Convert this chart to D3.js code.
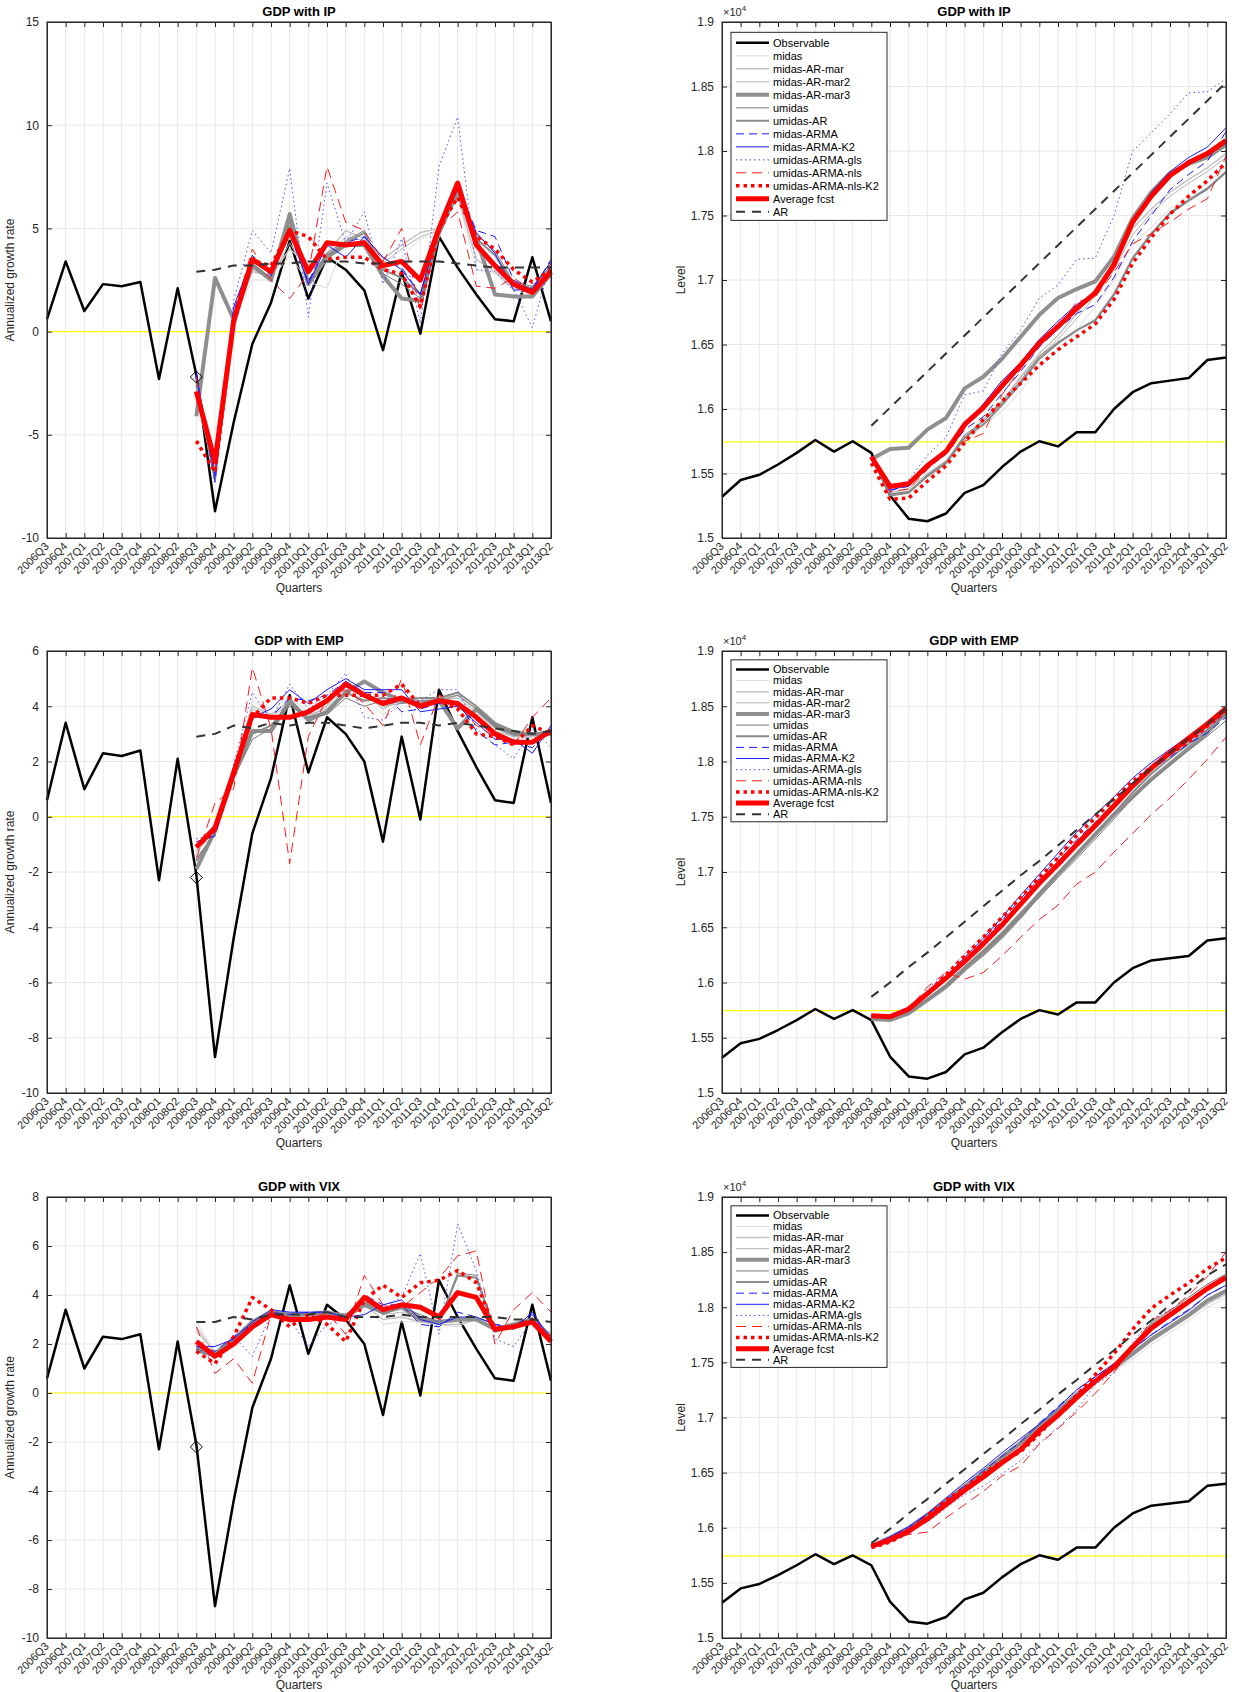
<!DOCTYPE html>
<html><head><meta charset="utf-8">
<script src="https://cdn.jsdelivr.net/npm/d3@7"></script>
<style>body{margin:0;background:#fff;font-family:"Liberation Sans",Arial,sans-serif}</style>
</head><body><svg id="c" width="1239" height="1692"></svg>
<script>
const quarters=["2006Q3","2006Q4","2007Q1","2007Q2","2007Q3","2007Q4","2008Q1","2008Q2","2008Q3","2008Q4","2009Q1","2009Q2","2009Q3","2009Q4","20010Q1","20010Q2","20010Q3","20010Q4","2011Q1","2011Q2","2011Q3","2011Q4","2012Q1","2012Q2","2012Q3","2012Q4","2013Q1","2013Q2"];
const seriesNames=["Observable","midas","midas-AR-mar","midas-AR-mar2","midas-AR-mar3","umidas","umidas-AR","midas-ARMA","midas-ARMA-K2","umidas-ARMA-gls","umidas-ARMA-nls","umidas-ARMA-nls-K2","Average fcst","AR"];
const obsGrowth=[0.6,3.4,1.0,2.3,2.2,2.4,-2.3,2.1,-2.1,-8.7,-4.4,-0.6,1.4,4.4,1.6,3.6,3.0,2.0,-0.9,2.9,-0.1,4.6,3.1,1.8,0.6,0.5,3.6,0.5];
const obsLevel=[1.532,1.545,1.549,1.557,1.566,1.576,1.567,1.575,1.566,1.533,1.515,1.513,1.519,1.535,1.541,1.555,1.567,1.575,1.571,1.582,1.582,1.600,1.613,1.620,1.622,1.624,1.638,1.640];
// IP growth
const ipG={
"midas":[-3.0,-6.5,0.7,2.5,2.5,3.7,2.4,2.1,4.5,4.7,3.0,3.6,4.5,4.8,6.5,3.0,2.8,2.0,1.8,2.8],
"midas-AR-mar":[-3.2,-6.8,0.6,2.9,2.7,4.0,3.2,3.8,4.9,4.5,3.5,4.2,4.8,5.0,6.6,3.5,2.9,2.1,1.9,2.9],
"midas-AR-mar2":[-3.0,-6.6,0.8,3.0,2.6,4.3,2.8,3.6,4.6,4.4,3.3,4.0,4.6,4.9,6.5,4.0,3.0,2.2,2.0,3.0],
"midas-AR-mar3":[-4.1,2.6,0.6,3.2,2.5,5.7,2.3,3.6,4.2,4.2,2.7,1.6,1.5,4.8,6.8,4.5,1.8,1.7,1.7,2.8],
"umidas":[-2.5,-7.0,0.9,3.3,2.6,5.3,2.5,3.8,4.4,4.9,2.8,2.3,1.6,4.8,6.8,4.7,3.9,2.4,2.2,3.2],
"umidas-AR":[-2.6,-7.2,0.8,3.2,2.5,5.1,2.4,3.7,4.3,4.8,3.0,2.6,1.8,4.7,6.7,4.5,3.7,2.3,2.1,3.1],
"midas-ARMA":[-2.0,-7.3,1.0,3.7,2.7,4.7,2.4,4.3,4.3,4.6,3.6,3.1,1.8,5.0,7.0,4.9,4.6,2.5,2.0,3.5],
"midas-ARMA-K2":[-2.1,-7.0,1.2,3.6,2.8,4.9,2.3,4.2,3.6,4.6,3.6,3.0,1.8,5.0,6.9,4.8,3.8,2.0,2.1,3.4],
"umidas-ARMA-gls":[-2.3,-7.3,1.5,4.9,3.8,7.9,0.7,7.2,4.3,5.8,2.3,4.5,0.4,8.0,10.4,3.0,2.9,2.0,0.2,3.4],
"umidas-ARMA-nls":[-2.2,-6.8,0.8,4.0,2.5,1.6,2.8,8.0,5.3,4.9,3.4,5.0,1.0,5.0,5.8,2.2,2.1,2.6,2.0,3.3],
"umidas-ARMA-nls-K2":[-5.3,-6.8,0.4,3.4,3.2,4.9,4.6,3.5,3.6,3.6,3.0,2.8,1.2,5.0,6.5,4.6,4.0,3.0,2.4,3.0],
"Average fcst":[-2.9,-6.3,0.5,3.5,2.9,4.9,2.9,4.3,4.2,4.3,3.2,3.4,2.5,5.0,7.2,4.2,3.2,2.3,1.9,2.9],
"AR":[2.9,3.0,3.2,3.2,3.3,3.3,3.4,3.4,3.4,3.3,3.3,3.4,3.4,3.4,3.3,3.2,3.1,3.1,3.1,3.1]};
const ipL={
"midas":[1.563,1.535,1.537,1.547,1.557,1.573,1.588,1.598,1.614,1.633,1.646,1.661,1.680,1.700,1.728,1.741,1.755,1.765,1.775,1.788],
"midas-AR-mar":[1.563,1.534,1.536,1.548,1.559,1.576,1.592,1.606,1.625,1.643,1.657,1.674,1.693,1.712,1.740,1.755,1.768,1.778,1.787,1.798],
"midas-AR-mar2":[1.563,1.535,1.538,1.550,1.560,1.578,1.592,1.606,1.624,1.641,1.654,1.670,1.688,1.708,1.735,1.752,1.765,1.775,1.784,1.795],
"midas-AR-mar3":[1.561,1.569,1.570,1.584,1.593,1.616,1.625,1.639,1.656,1.673,1.686,1.693,1.699,1.718,1.748,1.768,1.783,1.790,1.795,1.805],
"umidas":[1.563,1.534,1.536,1.549,1.559,1.580,1.590,1.605,1.622,1.641,1.652,1.661,1.668,1.688,1.716,1.735,1.751,1.761,1.770,1.783],
"umidas-AR":[1.563,1.533,1.535,1.548,1.558,1.578,1.588,1.603,1.620,1.639,1.651,1.661,1.669,1.689,1.717,1.736,1.752,1.762,1.771,1.784],
"midas-ARMA":[1.564,1.537,1.540,1.554,1.565,1.584,1.594,1.612,1.629,1.648,1.662,1.674,1.681,1.702,1.730,1.750,1.770,1.782,1.792,1.815],
"midas-ARMA-K2":[1.564,1.537,1.541,1.555,1.567,1.587,1.604,1.622,1.636,1.654,1.668,1.681,1.690,1.713,1.746,1.768,1.784,1.795,1.803,1.818],
"umidas-ARMA-gls":[1.563,1.535,1.545,1.564,1.578,1.611,1.614,1.643,1.661,1.686,1.696,1.716,1.717,1.750,1.800,1.814,1.829,1.845,1.846,1.856],
"umidas-ARMA-nls":[1.563,1.536,1.538,1.553,1.569,1.575,1.581,1.611,1.631,1.650,1.663,1.683,1.687,1.706,1.728,1.736,1.745,1.755,1.763,1.796],
"umidas-ARMA-nls-K2":[1.558,1.530,1.531,1.544,1.556,1.574,1.592,1.606,1.620,1.634,1.646,1.656,1.666,1.685,1.713,1.733,1.751,1.765,1.777,1.791],
"Average fcst":[1.563,1.540,1.542,1.556,1.567,1.588,1.601,1.618,1.634,1.651,1.664,1.678,1.690,1.712,1.745,1.765,1.781,1.791,1.798,1.808],
"AR":[1.587,1.601,1.615,1.629,1.643,1.657,1.671,1.685,1.699,1.713,1.727,1.741,1.755,1.769,1.783,1.797,1.811,1.825,1.839,1.853]};
// EMP
const empG={
"midas":[-1.3,-0.5,1.6,4.2,3.9,4.3,3.8,4.0,4.8,4.3,3.7,4.2,4.2,4.3,4.3,3.9,3.1,2.8,2.9,3.0],
"midas-AR-mar":[-1.2,-0.5,1.6,4.0,3.7,4.2,3.6,4.0,4.9,4.5,3.9,4.3,4.3,4.3,4.4,3.9,3.2,2.9,2.9,3.0],
"midas-AR-mar2":[-1.3,-0.5,1.5,3.9,3.6,4.1,3.7,3.9,4.7,4.4,4.0,4.1,4.3,4.2,4.3,3.8,3.1,2.9,3.0,3.0],
"midas-AR-mar3":[-1.9,-0.5,1.5,3.1,3.1,4.2,3.5,3.8,4.5,4.9,4.5,4.2,4.1,4.2,3.2,3.9,3.3,3.0,3.0,3.0],
"umidas":[-1.5,-0.6,1.4,2.8,3.2,4.0,3.6,3.7,4.3,4.0,4.2,4.1,4.2,4.2,4.4,3.9,3.3,3.0,3.0,3.1],
"umidas-AR":[-1.6,-0.6,1.4,3.0,3.3,4.1,3.6,3.8,4.5,4.2,4.3,4.2,4.3,4.3,4.5,4.0,3.4,3.1,3.0,3.1],
"midas-ARMA":[-0.9,-0.7,1.6,3.6,3.6,4.3,4.2,4.4,4.9,4.5,4.5,3.8,3.9,4.1,4.2,3.1,2.6,2.7,2.5,3.2],
"midas-ARMA-K2":[-1.0,-0.4,1.6,3.6,3.9,4.6,4.1,4.6,5.0,4.6,4.6,4.6,3.8,3.9,4.0,3.4,2.8,2.8,2.3,3.3],
"umidas-ARMA-gls":[-0.8,-0.6,1.9,4.5,3.5,4.8,3.9,4.4,5.2,3.6,3.5,4.2,4.2,4.6,4.6,3.2,2.6,2.1,3.2,2.5],
"umidas-ARMA-nls":[-1.5,0.5,1.0,5.4,3.2,-1.7,2.9,4.3,4.6,4.1,3.3,5.0,2.6,4.4,4.1,3.3,2.9,2.6,3.6,4.3],
"umidas-ARMA-nls-K2":[-1.1,-0.5,1.5,3.6,4.3,4.3,4.1,4.4,4.4,4.4,4.4,4.8,4.0,4.2,3.9,3.0,2.9,2.6,3.3,3.0],
"Average fcst":[-1.1,-0.4,1.6,3.7,3.6,3.6,3.8,4.2,4.8,4.4,4.1,4.3,4.0,4.2,4.1,3.6,3.0,2.7,2.7,3.1],
"AR":[2.9,3.0,3.3,3.2,3.4,3.3,3.4,3.4,3.3,3.2,3.3,3.4,3.4,3.3,3.4,3.3,3.2,3.1,3.0,3.1]};
const empL={
"midas":[1.570,1.569,1.576,1.591,1.605,1.620,1.636,1.652,1.671,1.689,1.705,1.722,1.740,1.758,1.776,1.792,1.806,1.819,1.832,1.846],
"midas-AR-mar":[1.570,1.569,1.576,1.591,1.604,1.620,1.635,1.651,1.671,1.689,1.706,1.723,1.741,1.759,1.777,1.793,1.807,1.820,1.833,1.847],
"midas-AR-mar2":[1.570,1.569,1.575,1.590,1.603,1.619,1.634,1.650,1.669,1.687,1.704,1.721,1.739,1.757,1.775,1.791,1.805,1.818,1.831,1.845],
"midas-AR-mar3":[1.567,1.566,1.572,1.584,1.596,1.612,1.626,1.642,1.660,1.680,1.698,1.716,1.734,1.752,1.768,1.784,1.798,1.812,1.826,1.845],
"umidas":[1.569,1.567,1.573,1.584,1.597,1.613,1.628,1.643,1.660,1.677,1.695,1.712,1.730,1.748,1.767,1.783,1.797,1.810,1.823,1.837],
"umidas-AR":[1.569,1.567,1.573,1.585,1.598,1.614,1.629,1.645,1.663,1.681,1.699,1.717,1.735,1.753,1.772,1.789,1.803,1.816,1.829,1.842],
"midas-ARMA":[1.570,1.569,1.576,1.590,1.604,1.621,1.638,1.656,1.676,1.694,1.713,1.729,1.745,1.762,1.780,1.793,1.804,1.816,1.826,1.840],
"midas-ARMA-K2":[1.570,1.569,1.576,1.590,1.605,1.623,1.640,1.659,1.679,1.698,1.717,1.736,1.752,1.768,1.785,1.799,1.811,1.823,1.833,1.847],
"umidas-ARMA-gls":[1.570,1.569,1.577,1.594,1.608,1.626,1.642,1.659,1.679,1.694,1.708,1.725,1.742,1.762,1.781,1.795,1.807,1.818,1.831,1.843],
"umidas-ARMA-nls":[1.570,1.568,1.576,1.596,1.609,1.603,1.609,1.624,1.641,1.657,1.670,1.689,1.700,1.718,1.735,1.752,1.767,1.784,1.802,1.822],
"umidas-ARMA-nls-K2":[1.570,1.569,1.576,1.590,1.607,1.624,1.641,1.659,1.677,1.695,1.713,1.733,1.749,1.766,1.782,1.795,1.807,1.818,1.832,1.846],
"Average fcst":[1.570,1.569,1.576,1.590,1.604,1.619,1.635,1.652,1.671,1.690,1.707,1.725,1.742,1.760,1.778,1.794,1.808,1.821,1.834,1.848],
"AR":[1.587,1.600,1.614,1.627,1.641,1.655,1.669,1.683,1.697,1.710,1.724,1.738,1.752,1.766,1.780,1.794,1.808,1.821,1.834,1.848]};
// VIX
const vixG={
"midas":[2.9,1.7,2.2,2.9,3.2,3.1,3.2,3.3,3.1,3.5,2.8,2.9,2.9,2.8,2.7,3.0,2.6,2.7,2.9,2.2],
"midas-AR-mar":[2.7,1.6,2.1,2.8,3.2,3.1,3.2,3.2,3.1,3.6,3.0,3.1,2.9,2.8,2.8,3.0,2.6,2.7,2.9,2.2],
"midas-AR-mar2":[2.5,1.7,2.1,2.8,3.2,3.1,3.2,3.2,3.1,3.6,3.2,3.3,3.0,2.9,2.9,3.1,2.6,2.7,2.9,2.2],
"midas-AR-mar3":[1.8,1.6,2.2,2.9,3.3,3.2,3.2,3.3,3.1,3.6,3.3,3.5,3.0,2.9,3.0,3.0,2.6,2.8,3.0,2.3],
"umidas":[1.8,1.6,2.2,2.9,3.3,3.1,3.2,3.3,3.2,3.8,3.2,3.5,3.2,2.9,4.9,4.8,2.5,2.8,3.0,2.2],
"umidas-AR":[1.7,1.5,2.2,2.9,3.3,3.1,3.2,3.3,3.2,3.7,3.3,3.6,3.1,2.9,4.8,4.7,2.5,2.7,3.0,2.2],
"midas-ARMA":[1.9,1.7,2.3,2.8,3.3,3.2,3.3,3.3,3.1,4.0,3.6,3.6,2.8,2.7,3.3,3.1,2.8,2.7,3.2,2.2],
"midas-ARMA-K2":[1.9,1.9,2.2,2.9,3.4,3.3,3.3,3.3,3.1,3.2,3.6,3.8,3.0,2.8,3.1,3.1,2.8,2.6,3.3,2.2],
"umidas-ARMA-gls":[1.8,1.4,2.3,1.5,3.2,3.0,1.9,2.8,3.0,4.0,3.5,3.9,5.7,2.4,6.9,5.0,2.2,1.9,3.0,2.4],
"umidas-ARMA-nls":[2.7,0.8,1.4,0.4,3.2,2.9,3.0,3.3,2.4,4.8,3.6,3.5,4.1,4.7,5.6,5.8,2.0,3.4,4.1,3.3],
"umidas-ARMA-nls-K2":[1.7,1.2,2.3,3.9,3.4,2.7,3.2,2.8,2.1,3.8,4.4,3.9,4.5,4.6,5.0,4.5,2.6,2.7,3.0,2.2],
"Average fcst":[2.1,1.5,2.0,2.7,3.2,3.0,3.0,3.1,3.0,3.9,3.4,3.6,3.5,3.1,4.1,3.9,2.6,2.7,2.9,2.1],
"AR":[2.9,2.9,3.1,3.0,3.2,3.2,3.2,3.3,3.1,3.1,3.1,3.2,3.1,3.1,3.1,3.1,3.1,3.0,3.0,2.9]};
const vixL={
"midas":[1.586,1.593,1.602,1.614,1.627,1.640,1.653,1.666,1.679,1.694,1.706,1.718,1.730,1.742,1.753,1.766,1.777,1.788,1.800,1.809],
"midas-AR-mar":[1.585,1.592,1.601,1.613,1.626,1.639,1.652,1.665,1.678,1.694,1.707,1.720,1.732,1.744,1.756,1.769,1.780,1.791,1.803,1.812],
"midas-AR-mar2":[1.585,1.592,1.601,1.613,1.626,1.639,1.652,1.665,1.678,1.694,1.708,1.722,1.734,1.746,1.758,1.771,1.782,1.793,1.805,1.815],
"midas-AR-mar3":[1.583,1.590,1.599,1.611,1.624,1.637,1.650,1.664,1.677,1.692,1.706,1.721,1.733,1.745,1.758,1.771,1.782,1.793,1.806,1.815],
"umidas":[1.583,1.590,1.599,1.611,1.624,1.637,1.650,1.664,1.677,1.693,1.706,1.721,1.734,1.746,1.766,1.786,1.797,1.809,1.821,1.830],
"umidas-AR":[1.583,1.589,1.598,1.610,1.623,1.636,1.649,1.663,1.676,1.691,1.705,1.720,1.733,1.745,1.765,1.784,1.795,1.806,1.818,1.827],
"midas-ARMA":[1.584,1.591,1.600,1.612,1.625,1.638,1.652,1.665,1.678,1.695,1.710,1.725,1.737,1.748,1.762,1.775,1.787,1.798,1.811,1.820],
"midas-ARMA-K2":[1.584,1.592,1.601,1.613,1.627,1.641,1.654,1.668,1.681,1.694,1.709,1.725,1.737,1.749,1.762,1.775,1.786,1.797,1.811,1.820],
"umidas-ARMA-gls":[1.584,1.590,1.599,1.605,1.618,1.630,1.638,1.649,1.661,1.677,1.691,1.707,1.730,1.740,1.768,1.789,1.798,1.806,1.818,1.828],
"umidas-ARMA-nls":[1.585,1.588,1.594,1.596,1.609,1.621,1.633,1.647,1.656,1.676,1.690,1.705,1.722,1.741,1.764,1.788,1.797,1.811,1.828,1.850],
"umidas-ARMA-nls-K2":[1.582,1.587,1.596,1.611,1.625,1.636,1.649,1.660,1.669,1.685,1.703,1.720,1.739,1.758,1.780,1.799,1.811,1.822,1.835,1.845],
"Average fcst":[1.583,1.589,1.597,1.608,1.621,1.634,1.646,1.659,1.671,1.688,1.702,1.718,1.733,1.746,1.764,1.781,1.793,1.805,1.817,1.827],
"AR":[1.586,1.599,1.613,1.626,1.640,1.653,1.667,1.680,1.694,1.707,1.721,1.734,1.748,1.761,1.775,1.788,1.802,1.815,1.829,1.839]};
const growthTicks={ip:[-10,-5,0,5,10,15],emp:[-10,-8,-6,-4,-2,0,2,4,6],vix:[-10,-8,-6,-4,-2,0,2,4,6,8]};
const levelTicks=[1.5,1.55,1.6,1.65,1.7,1.75,1.8,1.85,1.9];
const diamondValue=-2.2, levelRef=1.5745;

const styles={
"Observable":{c:"#000",w:2.5},
"midas":{c:"#dcdcdc",w:1},
"midas-AR-mar":{c:"#c4c4c4",w:1.5},
"midas-AR-mar2":{c:"#b4b4b4",w:1},
"midas-AR-mar3":{c:"#8f8f8f",w:4},
"umidas":{c:"#7a7a7a",w:1},
"umidas-AR":{c:"#8a8a8a",w:2},
"midas-ARMA":{c:"#1a1aff",w:1,d:"8,5"},
"midas-ARMA-K2":{c:"#1a1aff",w:1},
"umidas-ARMA-gls":{c:"#4d4dff",w:1,d:"1.5,3"},
"umidas-ARMA-nls":{c:"#ff1a1a",w:1,d:"10,6"},
"umidas-ARMA-nls-K2":{c:"#ff0000",w:3.5,d:"3.5,4"},
"Average fcst":{c:"#ff0000",w:5},
"AR":{c:"#333",w:2,d:"9,7"}};

const panels=[
{title:"GDP with IP",type:"g",data:ipG,ticks:growthTicks.ip,x0:47,y0:22,h:516},
{title:"GDP with IP",type:"l",data:ipL,x0:722,y0:22,h:516},
{title:"GDP with EMP",type:"g",data:empG,ticks:growthTicks.emp,x0:47,y0:651,h:442},
{title:"GDP with EMP",type:"l",data:empL,x0:722,y0:651,h:442},
{title:"GDP with VIX",type:"g",data:vixG,ticks:growthTicks.vix,x0:47,y0:1197,h:441},
{title:"GDP with VIX",type:"l",data:vixL,x0:722,y0:1197,h:441}];

const svg=d3.select("#c");
const W=504;
panels.forEach(p=>{
  const g=svg.append("g").attr("transform",`translate(${p.x0},${p.y0})`);
  const x=d3.scalePoint().domain(quarters).range([0,W]);
  const ticks=p.type==="g"?p.ticks:levelTicks;
  const y=d3.scaleLinear().domain(d3.extent(ticks)).range([p.h,0]);
  g.append("g").selectAll("line").data(quarters).join("line").attr("x1",d=>x(d)).attr("x2",d=>x(d)).attr("y1",0).attr("y2",p.h).attr("stroke","#e8e8e8");
  g.append("g").selectAll("line").data(ticks).join("line").attr("x1",0).attr("x2",W).attr("y1",d=>y(d)).attr("y2",d=>y(d)).attr("stroke","#e8e8e8");
  const ref=p.type==="g"?0:levelRef;
  g.append("line").attr("x1",0).attr("x2",W).attr("y1",y(ref)).attr("y2",y(ref)).attr("stroke","#ffff00").attr("stroke-width",1.2);
  const line=d3.line().x(d=>x(d.q)).y(d=>y(d.v));
  const obs=(p.type==="g"?obsGrowth:obsLevel).map((v,i)=>({q:quarters[i],v}));
  const draw=(name,pts)=>{const s=styles[name];g.append("path").datum(pts).attr("d",line).attr("fill","none").attr("stroke",s.c).attr("stroke-width",s.w).attr("stroke-dasharray",s.d||null).attr("stroke-linejoin","round");};
  draw("Observable",obs);
  seriesNames.slice(1).forEach(n=>draw(n,p.data[n].map((v,i)=>({q:quarters[i+8],v}))));
  if(p.type==="g"){
    const dx=x(quarters[8]),dy=y(diamondValue);
    g.append("path").attr("d",`M${dx},${dy-6}L${dx+6},${dy}L${dx},${dy+6}L${dx-6},${dy}Z`).attr("fill","none").attr("stroke","#000");
  }
  g.append("rect").attr("width",W).attr("height",p.h).attr("fill","none").attr("stroke","#262626");
  const ax=d3.axisBottom(x).tickSizeInner(-5).tickSizeOuter(0).tickPadding(0).tickSize(0);
  const xa=g.append("g").attr("transform",`translate(0,${p.h})`).call(ax);
  xa.selectAll("text").attr("y",0).attr("dy",0).attr("transform","translate(2,9) rotate(-45)").style("text-anchor","end").attr("font-size",11).attr("fill","#262626");
  xa.selectAll(".tick").append("line").attr("y2",-5).attr("stroke","#262626");
  g.append("g").call(d3.axisTop(x).tickSizeInner(-5).tickSizeOuter(0).tickFormat(""));
  const ya=g.append("g").call(d3.axisLeft(y).tickValues(ticks).tickSizeInner(-5).tickSizeOuter(0).tickPadding(8).tickFormat(d=>p.type==="g"?d:d3.format("")(+d.toFixed(2))));
  ya.selectAll("text").attr("font-size",12).attr("fill","#262626");
  g.append("g").attr("transform",`translate(${W},0)`).call(d3.axisRight(y).tickValues(ticks).tickSizeInner(-5).tickSizeOuter(0).tickFormat(""));
  g.selectAll(".domain").attr("stroke","#262626");
  g.selectAll(".tick line").attr("stroke","#262626");
  g.append("text").attr("x",W/2).attr("y",-6).attr("text-anchor","middle").attr("font-weight","bold").attr("font-size",13).text(p.title);
  g.append("text").attr("x",W/2).attr("y",Math.min(p.h+54,1689-p.y0)).attr("text-anchor","middle").attr("font-size",12).attr("fill","#262626").text("Quarters");
  g.append("text").attr("transform",`translate(${p.type==="g"?-33:-37},${p.h/2}) rotate(-90)`).attr("text-anchor","middle").attr("font-size",12).attr("fill","#262626").text(p.type==="g"?"Annualized growth rate":"Level");
  if(p.type==="l"){
    const t=g.append("text").attr("x",1).attr("y",-6).attr("font-size",11).attr("fill","#262626");
    t.append("tspan").text("×10");
    t.append("tspan").attr("dy",-5).attr("font-size",8).text("4");
    const rh=p.h*0.0252, lx=9, ly=p.h*0.02;
    const lg=g.append("g").attr("transform",`translate(${lx},${ly})`);
    lg.append("rect").attr("width",156).attr("height",rh*14+6).attr("fill","#fff").attr("stroke","#262626");
    seriesNames.forEach((n,i)=>{
      const s=styles[n],yy=4+rh*(i+0.5);
      lg.append("line").attr("x1",5).attr("x2",38).attr("y1",yy).attr("y2",yy).attr("stroke",s.c).attr("stroke-width",s.w).attr("stroke-dasharray",s.d||null);
      lg.append("text").attr("x",42).attr("y",yy).attr("dy","0.35em").attr("font-size",11).attr("fill","#000").text(n);
    });
  }
});
</script></body></html>
